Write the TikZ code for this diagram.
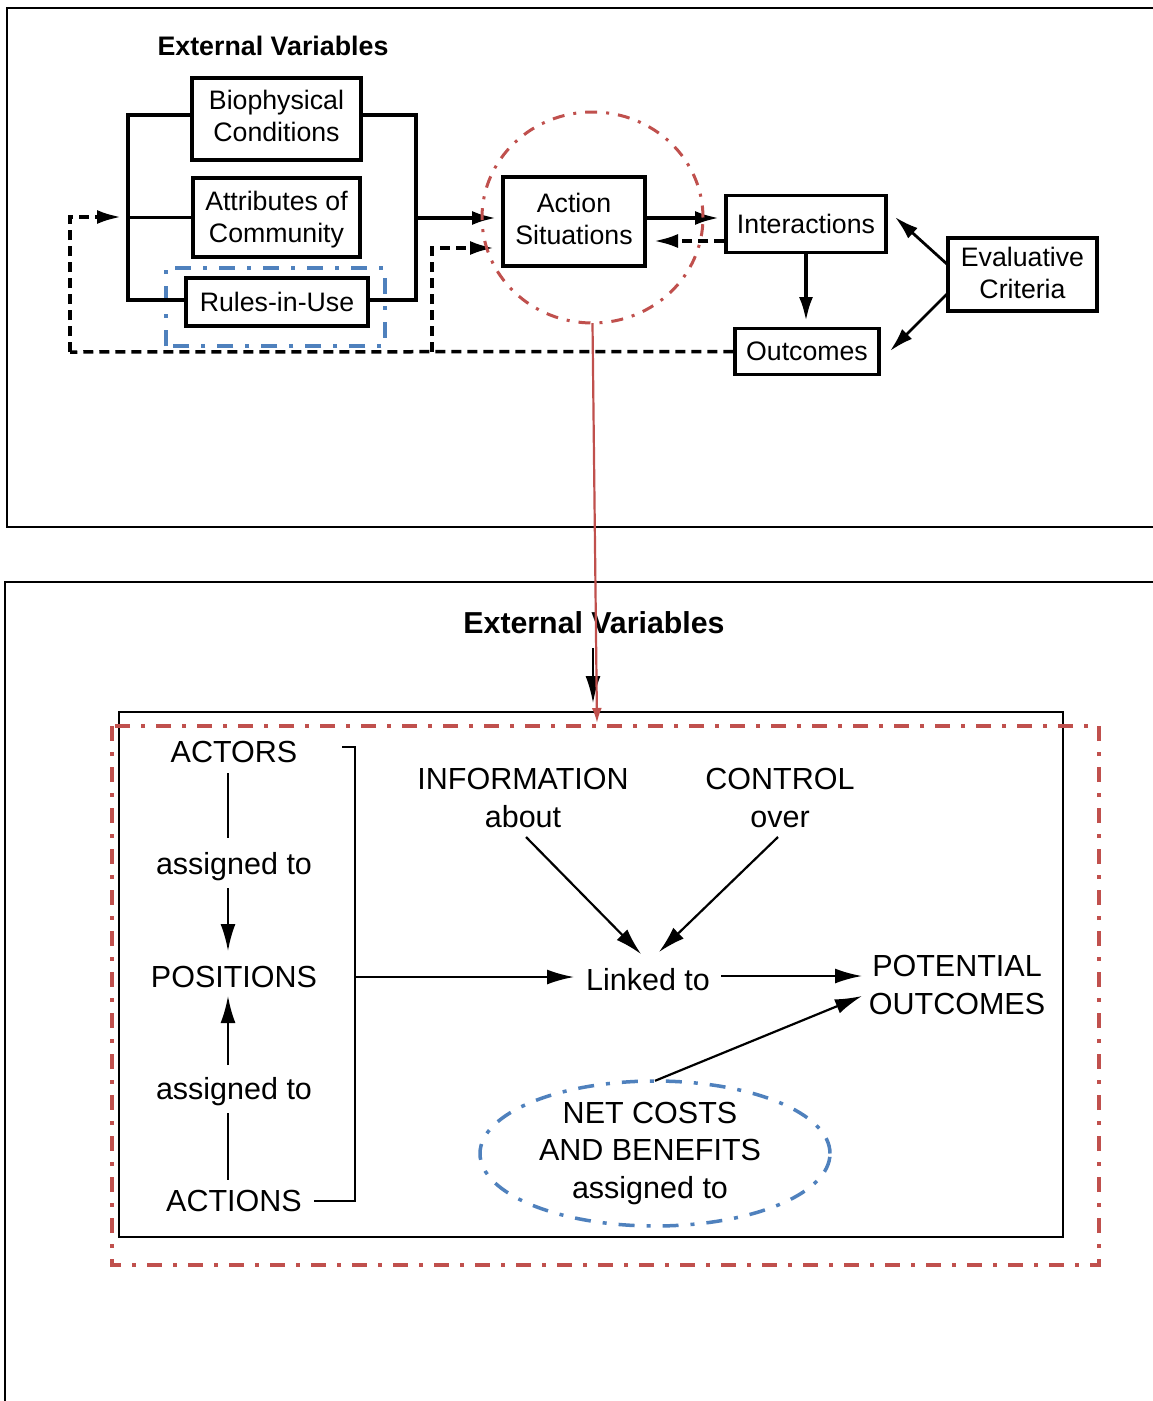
\documentclass[tikz,border=0pt]{standalone}
\usepackage{fontspec}
\setmainfont{Liberation Sans}
\usetikzlibrary{arrows.meta,shapes.geometric}
\definecolor{accentred}{HTML}{C0504D}
\definecolor{accentblue}{HTML}{4F81BD}
\tikzset{
  topfont/.style={font=\fontsize{26.7}{32}\selectfont},
  botfont/.style={font=\fontsize{30.5}{37.5}\selectfont},
  box/.style={draw, line width=3.5pt, topfont, align=center, inner sep=0pt},
  heavy/.style={line width=3.5pt},
  bigtip/.style={-{Latex[length=24pt,width=14pt]}},
  heavyarrow/.style={line width=3.5pt, bigtip},
  feedback/.style={line width=3.5pt, dash pattern=on 10pt off 6pt},
  thinarrow/.style={line width=2.2pt, -{Latex[length=27pt,width=15pt]}},
  thin/.style={line width=2.2pt},
  reddashdot/.style={accentred, line width=3pt, dash pattern=on 12pt off 9pt on 3pt off 9pt},
  bluedashdot/.style={accentblue, line width=3.5pt, dash pattern=on 16pt off 12pt on 4pt off 12pt},
  txt/.style={botfont, align=center, inner sep=0pt},
}
\begin{document}
\begin{tikzpicture}[x=1pt,y={(0pt,-1pt)}]
\useasboundingbox (0,0) rectangle (1152,1401);
\fill[white] (0,0) rectangle (1152,1401);

% panel frames (their right and lower sides run off the page)
\draw[line width=2pt] (1160,8) -- (7,8) -- (7,527) -- (1160,527);
\draw[line width=2pt] (1160,582) -- (5,582) -- (5,1410);

% ---------- upper panel: IAD framework ----------
\node[font=\bfseries\fontsize{26.8}{32}\selectfont] (extA) at (273,46) {External Variables};

\node[box, text depth=6pt, minimum width=169pt, minimum height=82pt] (bio) at (276.5,119) {Biophysical\\Conditions};
\node[box, text depth=1.6pt, minimum width=167pt, minimum height=79pt] (attr) at (276.5,217.5) {Attributes of\\Community};
\node[box, minimum width=182pt, minimum height=48pt] (rules) at (277,302) {Rules-in-Use};
\node[draw=none, minimum width=219pt, minimum height=78pt] (rulesmark) at (275.5,307) {};
\draw[bluedashdot] (rulesmark.south west) rectangle (rulesmark.north east);

\node[box, text depth=6pt, minimum width=142pt, minimum height=89pt] (act) at (574,221.5) {Action\\Situations};
\node[box, minimum width=160pt, minimum height=57pt] (inter) at (806,224) {Interactions};
\node[box, minimum width=144pt, minimum height=46pt] (outc) at (807,351.5) {Outcomes};
\node[box, text depth=4pt, minimum width=149pt, minimum height=73pt] (eval) at (1022.5,274.5) {Evaluative\\Criteria};

% bracket collecting the external variables
\coordinate (lbTop) at (128,115);
\coordinate (lbBot) at (128,300);
\coordinate (rbTop) at (416,115);
\coordinate (rbBot) at (416,300);
\coordinate (rbMid) at (416,218);
\draw[heavy] (bio.west |- lbTop) -- (lbTop) -- (lbBot) -- (rules.west |- lbBot);
\draw[heavy] (attr.west) -- (128,217.5);
\draw[heavy] (bio.east |- rbTop) -- (rbTop) -- (rbBot) -- (rules.east |- rbBot);
\coordinate (actIn) at (496,218);
\draw[heavyarrow] (rbMid) -- (actIn);

% action situations and their results
\coordinate (interIn) at (719,218);
\draw[heavyarrow] (act.east |- interIn) -- (interIn);
\coordinate (actBack) at (654,241);
\draw[feedback, bigtip] (inter.west |- actBack) -- (actBack);
\coordinate (outcIn) at (806,321);
\draw[heavyarrow] (inter.south -| outcIn) -- (outcIn);

% evaluative criteria
\coordinate (evalA) at (948,265);
\coordinate (evalB) at (948,293);
\coordinate (evalTipA) at (895,217);
\coordinate (evalTipB) at (890,351);
\draw[line width=2.8pt, bigtip] (evalA) -- (evalTipA);
\draw[line width=2.8pt, bigtip] (evalB) -- (evalTipB);

% feedback loops from outcomes
\coordinate (fbCorner) at (70,352);
\coordinate (fbTip) at (121,217);
\coordinate (fbSplit) at (432,352);
\coordinate (fbTip2) at (494,248);
\draw[feedback] (outc.west) -- (fbCorner);
\draw[feedback, bigtip] (fbCorner) |- (fbTip);
\draw[feedback, bigtip] (fbSplit) |- (fbTip2);

% highlight of the action situation
\node[draw=none, ellipse, minimum width=221pt, minimum height=211pt] (focus) at (592.5,217.5) {};
\draw[reddashdot] (focus.center) ellipse (110.5pt and 105.5pt);

% ---------- lower panel: inside an action situation ----------
\node[font=\bfseries\fontsize{30.3}{36}\selectfont] (extB) at (594,623) {External Variables};
\coordinate (extBtip) at (593,703);
\draw[thinarrow] (593,648) -- (extBtip);

\node[draw, line width=2.2pt, minimum width=944pt, minimum height=525pt] (asbox) at (591,974.5) {};

\node[txt] (actors) at (234,752) {ACTORS};
\node[txt] (asg1) at (234,867) {assigned to};
\node[txt] (pos) at (234,977) {POSITIONS};
\node[txt] (asg2) at (234,1092) {assigned to};
\node[txt] (actions) at (234,1201) {ACTIONS};

\node[txt] (info) at (523,798) {INFORMATION\\about};
\node[txt] (control) at (780,798) {CONTROL\\over};
\node[txt] (linked) at (648,980) {Linked to};
\node[txt] (potential) at (957,985) {POTENTIAL\\OUTCOMES};
\node[txt] (netcost) at (650,1153.5) {NET COSTS\\AND BENEFITS\\assigned to};
\node[draw=none, ellipse, minimum width=350pt, minimum height=145pt] (costring) at (655,1153.5) {};
\draw[bluedashdot] (costring.center) ellipse (175pt and 72.5pt);

% vertical chain on the left
\draw[thin] (228,773) -- (228,838);
\draw[thinarrow] (228,888) -- (228,951);
\draw[thinarrow] (228,1065) -- (228,996);
\draw[thin] (228,1113) -- (228,1180);

% bracket gathering actors, positions and actions
\coordinate (brTop) at (355,747);
\coordinate (brBot) at (355,1201);
\coordinate (brMid) at (355,977);
\draw[thin] (342,747) -- (brTop) -- (brBot) -- (314,1201);
\coordinate (linkIn) at (574,977);
\draw[thinarrow] (brMid) -- (linkIn);

% information and control feeding the links
\draw[thinarrow] (526,837) -- (641,954);
\draw[thinarrow] (778,837) -- (659,952);
\coordinate (potIn) at (862,976);
\draw[thinarrow] (721,976) -- (potIn);
\coordinate (potIn2) at (862,996);
\draw[thinarrow] (costring.north) -- (potIn2);

% scope of the zoomed action situation
\draw[reddashdot, line width=3.5pt, dash pattern=on 15pt off 11pt on 4pt off 11pt] (112,726) rectangle (1099,1265);

% link from the highlighted action situation to its detail
\draw[accentred, line width=2.2pt, -{Latex[length=15pt,width=10pt]}] (focus.south) -- (597,723);
\end{tikzpicture}
\end{document}
